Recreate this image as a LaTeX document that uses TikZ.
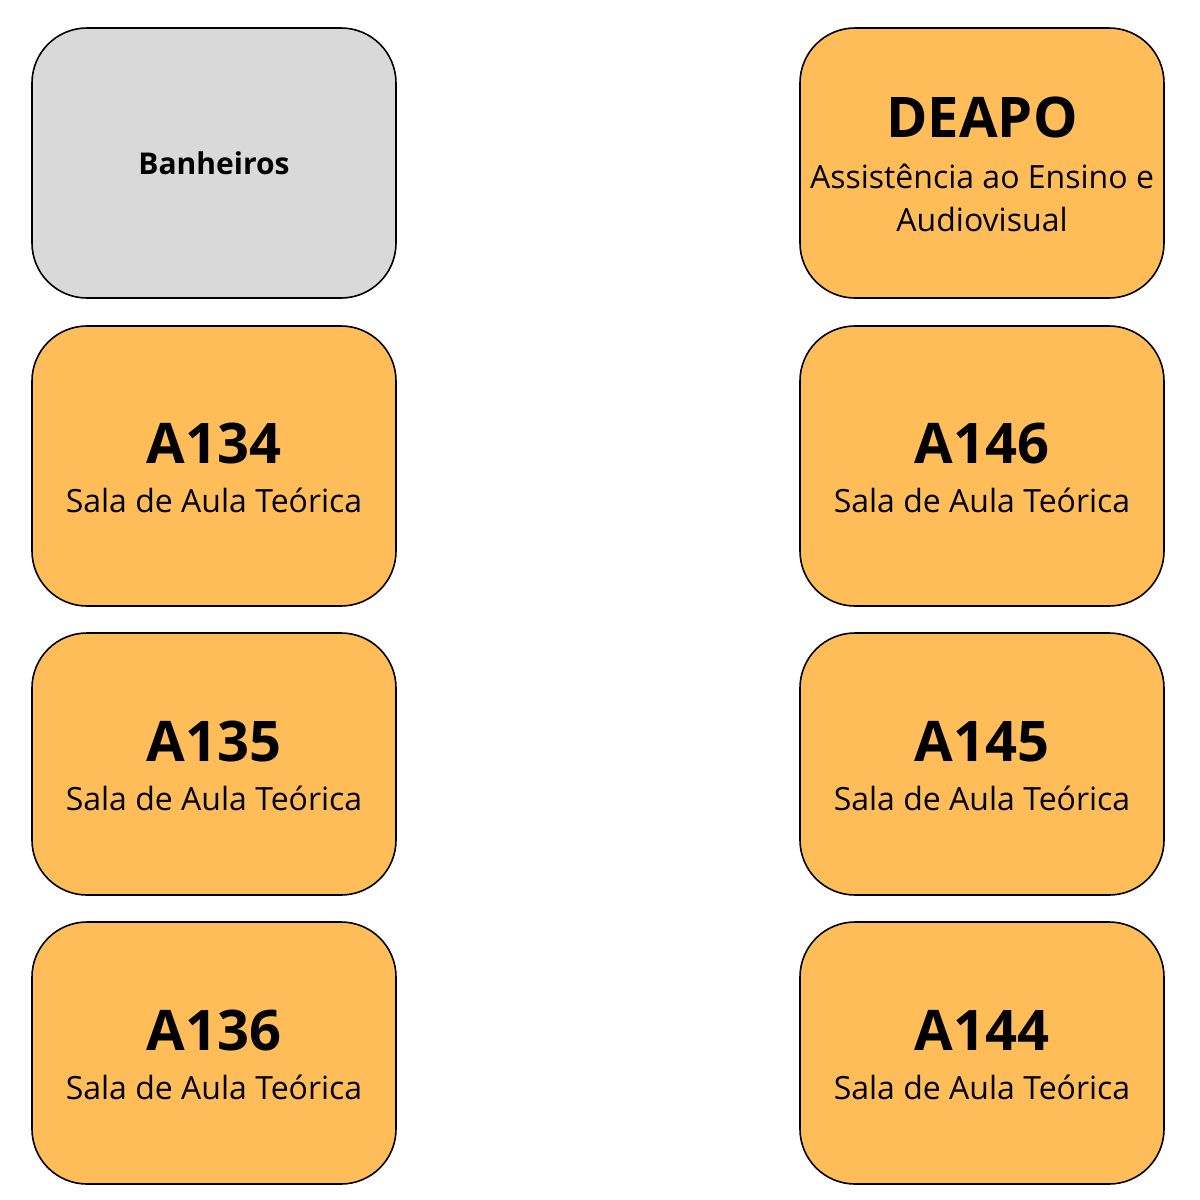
\documentclass[tikz,border=0pt]{standalone}
\usepackage{fontspec}
\setmainfont{Open Sans}
\definecolor{laranja}{HTML}{FFBD59}
\definecolor{cinza}{HTML}{D9D9D9}
\tikzset{
  sala/.style={draw=black, line width=1.6pt, rounded corners=55pt,
    fill=laranja, minimum width=364pt, inner sep=0pt},
  banheiro/.style={sala, fill=cinza},
  titulo/.style={anchor=base, inner sep=0pt, font=\fontsize{56}{60}\selectfont\bfseries},
  legenda/.style={anchor=base, inner sep=0pt, font=\fontsize{32}{38}\selectfont},
}
\begin{document}
\begin{tikzpicture}[x=1pt,y=1pt]
  \useasboundingbox (0,0) rectangle (1200,-1200);
  % first row
  \node[banheiro, minimum height=270pt] (wc) at (214,-163) {};
  \node[anchor=base, inner sep=0pt, font=\fontsize{30}{36}\selectfont\bfseries]
    (twc) at (214,-174) {Banheiros};
  \node[sala, minimum height=270pt] (deapo) at (982,-163) {};
  \node[titulo] (tdeapo) at (982,-137) {DEAPO};
  \node[legenda] (ldeapo) at (982,-188) {Assistência ao Ensino e};
  \node[legenda] (ldeapob) at (982,-231) {Audiovisual};
  % classrooms
  \foreach \nome/\x/\y/\h in {A134/214/466/280, A135/214/764/262, A136/214/1053/262,
                              A146/982/466/280, A145/982/764/262, A144/982/1053/262} {
    \node[sala, minimum height=\h pt] (s\nome) at (\x,-\y) {};
    \node[titulo] (t\nome) at ([yshift=3pt]s\nome.center) {\nome};
    \node[legenda] (l\nome) at ([yshift=-46pt]s\nome.center) {Sala de Aula Teórica};
  }
\end{tikzpicture}
\end{document}
